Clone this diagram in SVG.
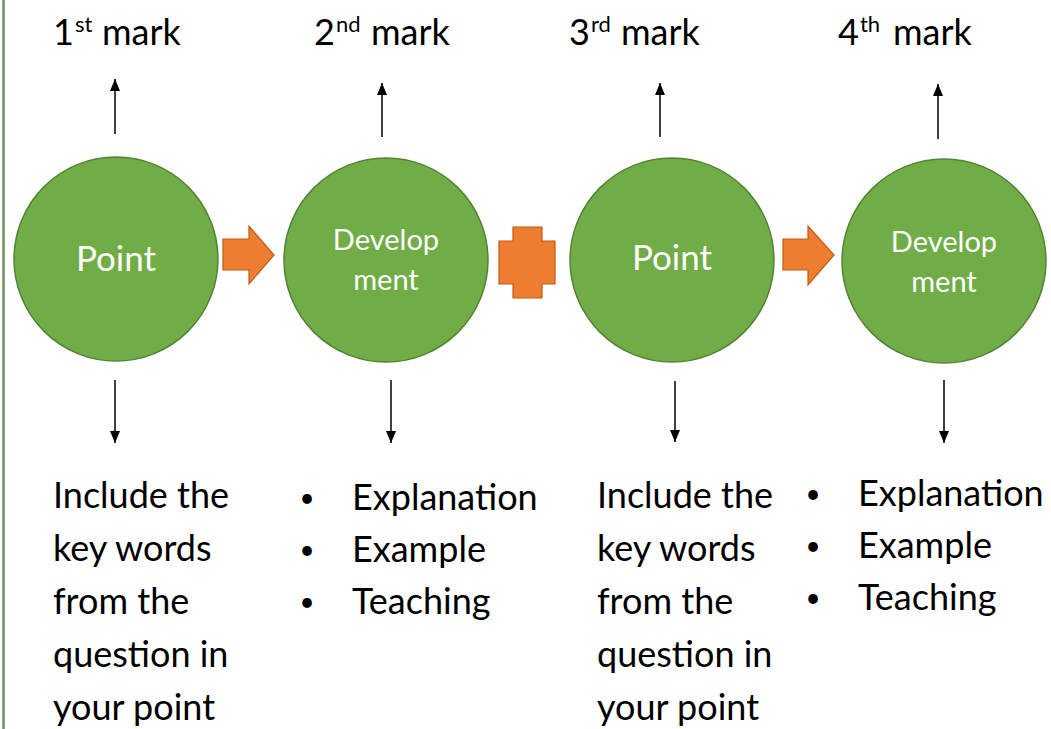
<svg xmlns="http://www.w3.org/2000/svg" width="1051" height="729" viewBox="0 0 1051 729">
<style>
.bg{fill:#ffffff}
.border{stroke:#6f8c5f;stroke-width:2.5}
.node{fill:#70ad47;stroke:#548235;stroke-width:1.5}
.block{fill:#ed7d31;stroke:#c55a11;stroke-width:1.2}
.t{font-family:Lato,"Liberation Sans",sans-serif;fill:#000000}
.head{font-size:36px}
.sup{font-size:22px}
.body{font-size:36px}
.ntext{font-family:Lato,"Liberation Sans",sans-serif;fill:#ffffff;text-anchor:middle}
.big{font-size:35px}
.small{font-size:29px}
.conn{stroke:#000000;stroke-width:1.5;fill:none;marker-end:url(#ah)}
.bullet{text-anchor:middle;font-size:26px}
</style>
<defs>
<marker id="ah" viewBox="0 0 12 10" refX="12" refY="5" markerWidth="12" markerHeight="10" markerUnits="userSpaceOnUse" orient="auto">
<path d="M0,0 L12,5 L0,10 Z" fill="#000000"/>
</marker>
</defs>
<rect class="bg" x="0" y="0" width="1051" height="729"/>
<line class="border" x1="3.5" y1="0" x2="3.5" y2="729"/>

<g id="node-point-1">
<circle class="node" cx="116" cy="259" r="102"/>
<text class="ntext big" x="116" y="271">Point</text>
</g>
<g id="node-development-2">
<circle class="node" cx="386" cy="260" r="102"/>
<text class="ntext small" x="386" y="250">Develop</text>
<text class="ntext small" x="386" y="290">ment</text>
</g>
<g id="node-point-3">
<circle class="node" cx="672" cy="260" r="102"/>
<text class="ntext big" x="672" y="270">Point</text>
</g>
<g id="node-development-4">
<circle class="node" cx="944" cy="261" r="102"/>
<text class="ntext small" x="944" y="252">Develop</text>
<text class="ntext small" x="944" y="292">ment</text>
</g>

<g id="block-arrow-1">
<polygon class="block" points="223,239 249,239 249,226 274,255 249,284 249,270 223,270"/>
</g>
<g id="block-plus">
<polygon class="block" points="513,227 542,227 542,241 555,241 555,284 542,284 542,298 513,298 513,284 499,284 499,241 513,241"/>
</g>
<g id="block-arrow-2">
<polygon class="block" points="783,239 808,239 808,226 834,255 808,285 808,270 783,270"/>
</g>

<g id="connectors">
<path class="conn" d="M115,134 L115,79"/>
<path class="conn" d="M382,137 L382,83"/>
<path class="conn" d="M660,137 L660,83"/>
<path class="conn" d="M938,139 L938,84"/>
<path class="conn" d="M115,380 L115,443"/>
<path class="conn" d="M391,380 L391,443"/>
<path class="conn" d="M675,381 L675,442"/>
<path class="conn" d="M944,380 L944,443"/>
</g>

<g id="mark-1">
<text class="t head" x="53" y="45">1<tspan class="sup" dx="1" dy="-13">st</tspan><tspan x="102" y="45">mark</tspan></text>
</g>
<g id="mark-2">
<text class="t head" x="314" y="45">2<tspan class="sup" dx="1" dy="-13">nd</tspan><tspan x="371" y="45">mark</tspan></text>
</g>
<g id="mark-3">
<text class="t head" x="569" y="45">3<tspan class="sup" dx="1" dy="-13">rd</tspan><tspan x="621" y="45">mark</tspan></text>
</g>
<g id="mark-4">
<text class="t head" x="838" y="45">4<tspan class="sup" dx="1" dy="-13">th</tspan><tspan x="893" y="45">mark</tspan></text>
</g>

<g id="desc-1">
<text class="t body" x="53" y="508">Include the</text>
<text class="t body" x="53" y="561">key words</text>
<text class="t body" x="53" y="614">from the</text>
<text class="t body" x="53" y="667">question in</text>
<text class="t body" x="53" y="720">your point</text>
</g>
<g id="desc-2">
<text class="t bullet" x="307" y="507">•</text>
<text class="t body" x="352" y="510">Explanation</text>
<text class="t bullet" x="307" y="559">•</text>
<text class="t body" x="352" y="562">Example</text>
<text class="t bullet" x="307" y="611">•</text>
<text class="t body" x="352" y="614">Teaching</text>
</g>
<g id="desc-3">
<text class="t body" x="597" y="508">Include the</text>
<text class="t body" x="597" y="561">key words</text>
<text class="t body" x="597" y="614">from the</text>
<text class="t body" x="597" y="667">question in</text>
<text class="t body" x="597" y="720">your point</text>
</g>
<g id="desc-4">
<text class="t bullet" x="813" y="503">•</text>
<text class="t body" x="858" y="506">Explanation</text>
<text class="t bullet" x="813" y="555">•</text>
<text class="t body" x="858" y="558">Example</text>
<text class="t bullet" x="813" y="607">•</text>
<text class="t body" x="858" y="610">Teaching</text>
</g>
</svg>
